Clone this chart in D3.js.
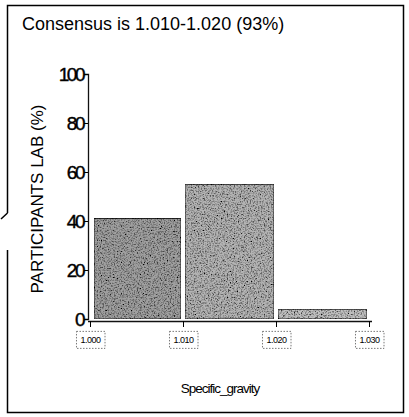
<!DOCTYPE html>
<html><head><meta charset="utf-8">
<script src="https://cdn.jsdelivr.net/npm/d3@7"></script>
<style>body{margin:0;background:#fff}svg{display:block}</style>
</head><body>
<svg id="c" width="409" height="417"></svg>
<script>
const title = "Consensus is 1.010-1.020 (93%)";
const binStarts = [1.000, 1.010, 1.020];
const binEnds = [1.010, 1.020, 1.030];
const values = [41, 55, 4];
const xTicks = [1.000, 1.010, 1.020, 1.030];
const xTickLabels = ["1.000", "1.010", "1.020", "1.030"];
const yTicks = [0, 20, 40, 60, 80, 100];
const yLabel = "PARTICIPANTS LAB (%)";
const xLabel = "Specific_gravity";

const svg = d3.select("#c");
const defs = svg.append("defs");
const f = defs.append("filter").attr("id","noise").attr("x",0).attr("y",0).attr("width","100%").attr("height","100%");
f.append("feTurbulence").attr("type","fractalNoise").attr("baseFrequency",0.7).attr("numOctaves",3).attr("seed",5).attr("result","t");
f.append("feColorMatrix").attr("in","t").attr("type","matrix")
 .attr("values","0 0 0 0 0  0 0 0 0 0  0 0 0 0 0  -2.5 0 0 0 1.45").attr("result","n");
f.append("feComposite").attr("in","n").attr("in2","SourceGraphic").attr("operator","in").attr("result","m");
f.append("feMerge").selectAll("feMergeNode").data(["SourceGraphic","m"]).join("feMergeNode").attr("in",d=>d);

// frame (left edge has a small break)
svg.append("path").attr("d","M7.5,213 V5.5 H403.5 V412.5 H7.5 V250 M7.5,213 L1,219")
  .attr("fill","none").attr("stroke","#000").attr("stroke-width",1.5);

svg.append("text").attr("x",22).attr("y",30).attr("font-family","Liberation Sans, Arial").attr("font-size",18)
  .text(title);

const x = d3.scaleLinear().domain([1.000,1.030]).range([90,369]);
const y = d3.scaleLinear().domain([0,100]).range([319,74]);
const colors = ["#a0a0a0","#b4b4b4","#c0c0c0"];

// bars
svg.append("g").selectAll("rect").data(values).join("rect")
  .attr("x",(d,i)=>x(binStarts[i])+ (i===0?4:2))
  .attr("width",(d,i)=>x(binEnds[i])-x(binStarts[i])-(i===0?6:4))
  .attr("y",d=>y(d)).attr("height",d=>y(0)-y(d))
  .attr("fill",(d,i)=>colors[i]).attr("stroke","#222").attr("stroke-width",1)
  .attr("filter","url(#noise)");

// y axis
const ya = svg.append("g").attr("transform","translate(88,0)")
  .call(d3.axisLeft(y).tickValues(yTicks).tickSize(4).tickFormat(d3.format("d")));
ya.select(".domain").attr("stroke","#111").attr("stroke-width",1.3);
ya.selectAll("text").attr("font-family","Liberation Sans, Arial").attr("font-size",19)
  .attr("letter-spacing",-2.5).attr("fill","#000").attr("stroke","#000").attr("stroke-width",0.4).attr("x",-5);

// x axis
const xa = svg.append("g").attr("transform","translate(0,321)")
  .call(d3.axisBottom(x).tickValues(xTicks).tickSize(6).tickFormat((d,i)=>xTickLabels[i]));
xa.select(".domain").attr("stroke","#111").attr("stroke-width",1.3).attr("d","M88,0.5H372");
xa.selectAll(".tick text").attr("font-family","Liberation Sans, Arial").attr("font-size",9)
  .attr("fill","#000").attr("y",16).attr("letter-spacing",-0.5);
xa.selectAll(".tick").each(function(){
  const t = d3.select(this);
  const bb = t.select("text").node().getBBox();
  t.insert("rect","text").attr("x",bb.x-4).attr("y",bb.y-4).attr("width",bb.width+8).attr("height",bb.height+7)
   .attr("fill","none").attr("stroke","#555").attr("stroke-width",0.8).attr("stroke-dasharray","1.5,1.5");
});

svg.append("text").attr("transform","translate(43,199) rotate(-90)").attr("text-anchor","middle")
  .attr("font-family","Liberation Sans, Arial").attr("font-size",17).text(yLabel);

svg.append("text").attr("x",220).attr("y",393).attr("text-anchor","middle")
  .attr("font-family","Liberation Sans, Arial").attr("font-size",13.5).attr("letter-spacing",-1).text(xLabel);
</script>
</body></html>
